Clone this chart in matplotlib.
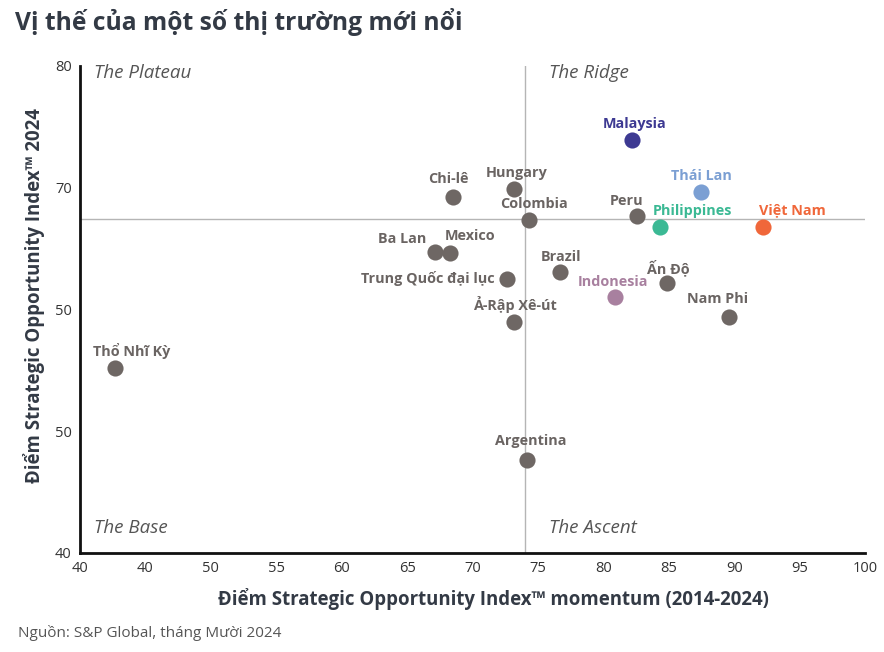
import matplotlib
matplotlib.use("Agg")
import matplotlib.pyplot as plt

plt.rcParams['font.family'] = ['Open Sans', 'DejaVu Sans']

# Dữ liệu
countries = ["Malaysia", "Thái Lan", "Việt Nam", "Philippines", "Peru", "Chi-lê",
             "Hungary", "Colombia", "Ba Lan", "Mexico", "Trung Quốc đại lục",
             "Brazil", "Indonesia", "Ấn Độ", "Nam Phi", "Ả-Rập Xê-út",
             "Thổ Nhĩ Kỳ", "Argentina"]
momentum = [82.2, 87.5, 92.2, 84.3, 82.6, 68.5, 73.2, 74.3, 67.1, 68.3, 72.6,
            76.7, 80.9, 84.9, 89.6, 73.2, 42.7, 74.2]
score = [73.9, 69.6, 66.8, 66.8, 67.7, 69.2, 69.9, 67.3, 64.7, 64.6, 62.5,
         63.1, 61.0, 62.2, 59.4, 59.0, 55.2, 47.6]

x_ticks = [40, 45, 50, 55, 60, 65, 70, 75, 80, 85, 90, 95, 100]
x_tick_labels = ["40", "40", "50", "55", "60", "65", "70", "75", "80", "85", "90", "95", "100"]
y_ticks = [40, 50, 60, 70, 80]
y_tick_labels = ["40", "50", "50", "70", "80"]
x_split = 74.0
y_split = 67.4

gray = "#6e6764"
colors = {"Malaysia": "#3d3992", "Thái Lan": "#7b9fd3", "Việt Nam": "#f0673a",
          "Philippines": "#3bb994", "Indonesia": "#a8809f"}
# vị trí nhãn (pixel so với điểm)
offsets = {"Malaysia": (3, 16), "Thái Lan": (0, 16), "Việt Nam": (29, 16),
           "Philippines": (33, 16), "Peru": (-11, 15), "Chi-lê": (-4, 18),
           "Hungary": (2, 16), "Colombia": (5, 16), "Ba Lan": (-32, 13),
           "Mexico": (20, 17), "Trung Quốc đại lục": (-12, 0), "Brazil": (1, 15),
           "Indonesia": (-2, 15), "Ấn Độ": (1, 15), "Nam Phi": (-11, 18),
           "Ả-Rập Xê-út": (1, 17), "Thổ Nhĩ Kỳ": (16, 17), "Argentina": (3, 19)}

fig = plt.figure(figsize=(8.84, 6.52), dpi=100)
ax = fig.add_axes([0.0905, 0.152, 0.888, 0.747])

ax.axvline(x_split, color="#b5b5b5", lw=1, zorder=1)
ax.axhline(y_split, color="#b5b5b5", lw=1, zorder=1)

for name, x, y in zip(countries, momentum, score):
    c = colors.get(name, gray)
    ax.scatter(x, y, s=135, color=c, zorder=3, linewidths=0)
    dx, dy = offsets[name]
    ha = "right" if name == "Trung Quốc đại lục" else "center"
    ax.annotate(name, (x, y), xytext=(dx, dy), textcoords="offset pixels",
                ha=ha, va="center", fontsize=10.4, fontweight="bold",
                color=c if c != gray else "#6a6462", zorder=4)

qstyle = dict(fontsize=13.5, style="italic", color="#555555", va="center")
ax.text(0.018, 0.985, "The Plateau", transform=ax.transAxes, ha="left", **qstyle)
ax.text(0.598, 0.985, "The Ridge", transform=ax.transAxes, ha="left", **qstyle)
ax.text(0.018, 0.052, "The Base", transform=ax.transAxes, ha="left", **qstyle)
ax.text(0.598, 0.052, "The Ascent", transform=ax.transAxes, ha="left", **qstyle)

ax.set_xlim(40, 100)
ax.set_ylim(40, 80)
ax.set_xticks(x_ticks)
ax.set_xticklabels(x_tick_labels)
ax.set_yticks(y_ticks)
ax.set_yticklabels(y_tick_labels)
ax.tick_params(length=0, labelsize=10.5, colors="#333333", pad=6)
for s in ["top", "right"]:
    ax.spines[s].set_visible(False)
for s in ["left", "bottom"]:
    ax.spines[s].set_linewidth(2)
    ax.spines[s].set_color("#111111")

ax.set_xlabel("Điểm Strategic Opportunity Index™ momentum (2014-2024)",
              fontsize=13.4, fontweight="bold", color="#333a45")
ax.xaxis.set_label_coords(0.527, -0.072)
ax.set_ylabel("Điểm Strategic Opportunity Index™ 2024",
              fontsize=13.4, fontweight="bold", color="#333a45")
ax.yaxis.set_label_coords(-0.044, 0.528)

fig.text(0.017, 0.966, "Vị thế của một số thị trường mới nổi", fontsize=17.7,
         fontweight="bold", color="#333a45", ha="left", va="center")
fig.text(0.02, 0.029, "Nguồn: S&P Global, tháng Mười 2024", fontsize=11,
         color="#555555", ha="left", va="center")

fig.savefig("out.png", dpi=100)
